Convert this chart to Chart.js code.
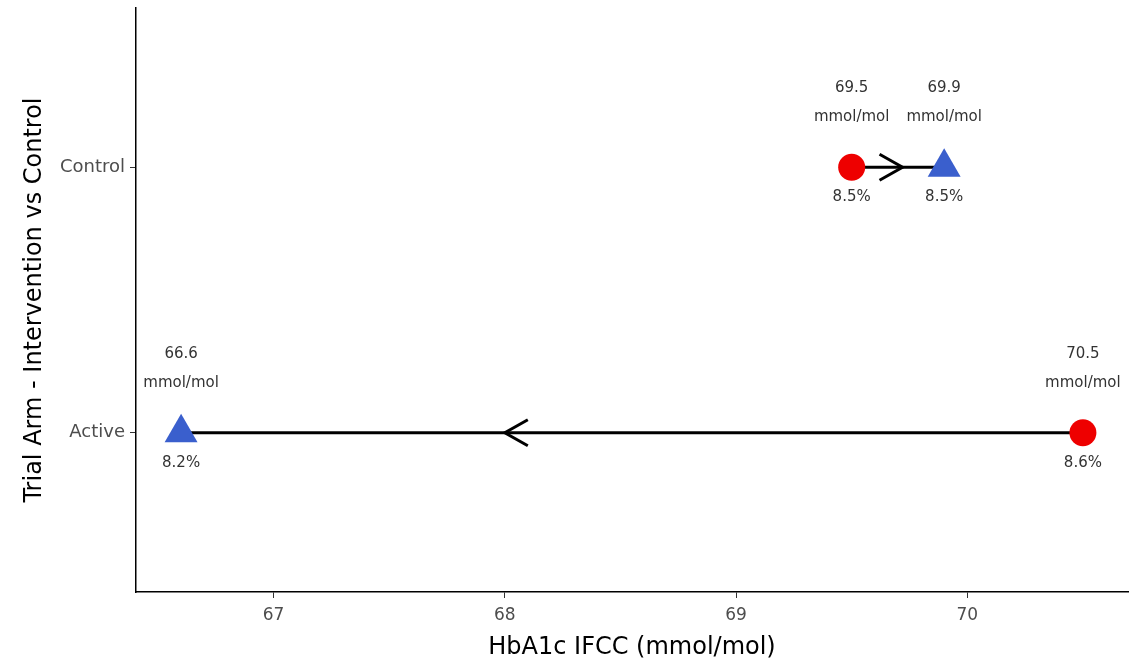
<!DOCTYPE html>
<html>
<head>
<meta charset="utf-8">
<script src="https://cdn.jsdelivr.net/npm/chart.js@4"></script>
<style>
  html, body { margin: 0; padding: 0; background: #fff; }
  #wrap { width: 1139px; height: 662px; }
</style>
</head>
<body>
<div id="wrap"><canvas id="chart" width="1139" height="662"></canvas></div>
<script>
// Дані
const arms = ['Active', 'Control'];          // y = 1, 2
const baseline = [70.5, 69.5];               // mmol/mol
const followUp = [66.6, 69.9];               // mmol/mol
const baselinePct = ['8.6', '8.5'];
const followUpPct = ['8.2', '8.5'];
const arrowTip = [68.0, 69.72];              // де стоїть стрілка на відрізку
const xTicks = [67, 68, 69, 70];

const font = '"DejaVu Sans", "Liberation Sans", Arial, sans-serif';

const segments = arms.map((arm, i) => ({
  label: arm,
  type: 'line',
  data: [{ x: baseline[i], y: i + 1 }, { x: followUp[i], y: i + 1 }],
  borderColor: '#000',
  borderWidth: 3,
  pointRadius: 0,
  order: 3,
}));

// Плагін: стрілки та підписи
const annotate = {
  id: 'annotate',
  afterDatasetsDraw(chart) {
    const { ctx, scales: { x, y } } = chart;
    ctx.save();
    // стрілки
    arms.forEach((arm, i) => {
      const px = x.getPixelForValue(arrowTip[i]);
      const py = y.getPixelForValue(i + 1);
      const dir = followUp[i] < baseline[i] ? 1 : -1;
      ctx.beginPath();
      ctx.moveTo(px + dir * 23, py - 13);
      ctx.lineTo(px, py);
      ctx.lineTo(px + dir * 23, py + 13);
      ctx.strokeStyle = '#000';
      ctx.lineWidth = 3;
      ctx.stroke();
    });
    // підписи
    ctx.fillStyle = '#333';
    ctx.font = '15px ' + font;
    ctx.textAlign = 'center';
    ctx.textBaseline = 'middle';
    const label = (val, pct, row) => {
      const px = x.getPixelForValue(val);
      const py = y.getPixelForValue(row);
      ctx.fillText(val.toFixed(1), px, py - 79);
      ctx.fillText('mmol/mol', px, py - 50);
      ctx.fillText(pct + '%', px, py + 30);
    };
    arms.forEach((arm, i) => {
      label(baseline[i], baselinePct[i], i + 1);
      label(followUp[i], followUpPct[i], i + 1);
    });
    ctx.restore();
  },
};

new Chart(document.getElementById('chart'), {
  type: 'scatter',
  data: {
    datasets: [
      ...segments,
      {
        label: 'Baseline',
        data: baseline.map((v, i) => ({ x: v, y: i + 1 })),
        pointStyle: 'circle',
        pointRadius: 13.5,
        pointHoverRadius: 13.5,
        backgroundColor: '#EE0000',
        borderWidth: 0,
        order: 1,
      },
      {
        label: 'Follow-up',
        data: followUp.map((v, i) => ({ x: v, y: i + 1 })),
        pointStyle: 'triangle',
        pointRadius: 19,
        pointHoverRadius: 19,
        backgroundColor: '#3A5FCD',
        borderWidth: 0,
        order: 1,
      },
    ],
  },
  options: {
    responsive: false,
    animation: false,
    layout: { autoPadding: false, padding: { top: 8, right: 11, left: 0, bottom: 0 } },
    plugins: { legend: { display: false }, tooltip: { enabled: false } },
    scales: {
      x: {
        type: 'linear',
        min: 66.405,
        max: 70.695,
        afterBuildTicks: (s) => { s.ticks = xTicks.map((v) => ({ value: v })); },
        afterFit: (s) => { s.height = 70; s.paddingLeft = 0; s.paddingRight = 0; },
        grid: { drawOnChartArea: false, drawTicks: true, tickLength: 6, color: '#333', lineWidth: 1 },
        border: { display: true, color: '#000', width: 1.5 },
        ticks: { color: '#4D4D4D', font: { family: font, size: 17 }, padding: 7, callback: (v) => v },
        title: { display: true, text: 'HbA1c IFCC (mmol/mol)', color: '#000', font: { family: font, size: 24 }, padding: { top: 3, bottom: 0 } },
      },
      y: {
        type: 'linear',
        min: 0.4,
        max: 2.6,
        afterBuildTicks: (s) => { s.ticks = arms.map((a, i) => ({ value: i + 1 })); },
        afterFit: (s) => { s.width = 136; s.paddingTop = 0; s.paddingBottom = 0; },
        grid: { drawOnChartArea: false, drawTicks: true, tickLength: 6, color: '#333', lineWidth: 1 },
        border: { display: true, color: '#000', width: 1.5 },
        ticks: { color: '#4D4D4D', font: { family: font, size: 18 }, padding: 5, callback: (v) => arms[v - 1] },
        title: { display: true, text: 'Trial Arm - Intervention vs Control', color: '#000', font: { family: font, size: 24 }, padding: { top: 20, bottom: 0 } },
      },
    },
  },
  plugins: [annotate],
});
</script>
</body>
</html>
